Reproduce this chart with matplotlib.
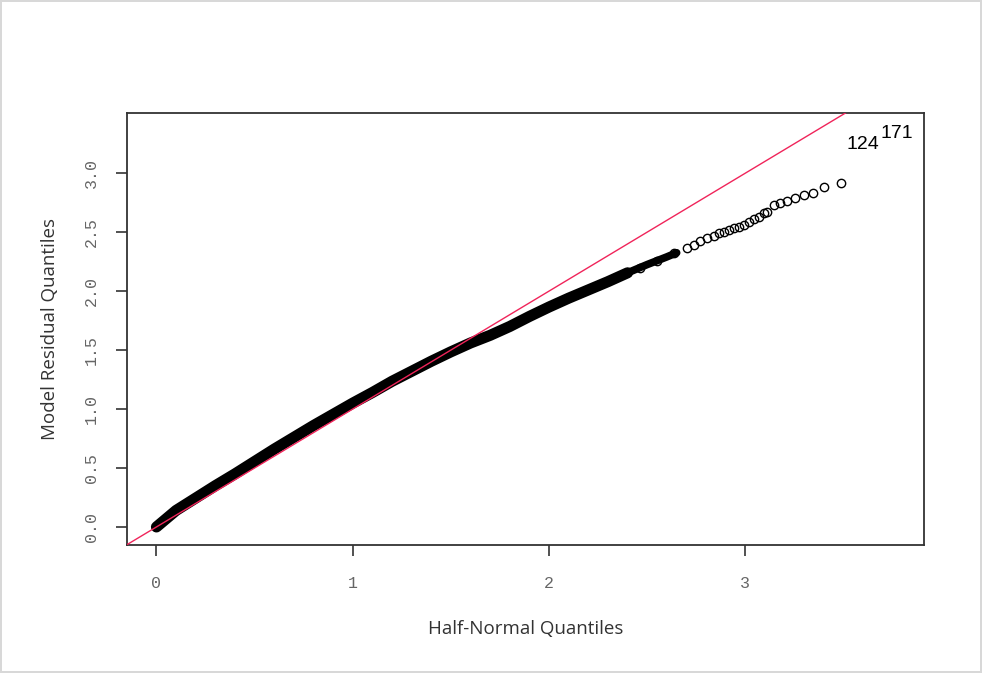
import matplotlib
matplotlib.use("Agg")
import matplotlib.pyplot as plt

# Dense part of the half-normal plot (read along the centre of the black band)
dense_x = [0.0, 0.1, 0.2, 0.3, 0.4, 0.5, 0.6, 0.7, 0.8, 0.9, 1.0, 1.1, 1.2, 1.3,
           1.4, 1.5, 1.6, 1.7, 1.8, 1.9, 2.0, 2.1, 2.2, 2.3, 2.4]
dense_y = [0.0, 0.14, 0.245, 0.35, 0.45, 0.555, 0.66, 0.76, 0.86, 0.955, 1.05,
           1.14, 1.235, 1.32, 1.405, 1.485, 1.56, 1.625, 1.70, 1.785, 1.865, 1.94,
           2.01, 2.08, 2.155]

# thinner stretch where the points start to separate
mid_x = [2.4, 2.5, 2.6, 2.65]
mid_y = [2.155, 2.225, 2.29, 2.325]

# Sparse upper tail (individual circles)
tail_x = [2.464, 2.549, 2.634, 2.703, 2.736, 2.770, 2.805, 2.838, 2.864, 2.889,
          2.915, 2.940, 2.966, 2.991, 3.017, 3.042, 3.068, 3.093, 3.110, 3.144,
          3.175, 3.213, 3.255, 3.297, 3.345, 3.399, 3.485]
tail_y = [2.195, 2.251, 2.321, 2.363, 2.392, 2.426, 2.447, 2.470, 2.489, 2.504,
          2.518, 2.532, 2.546, 2.560, 2.588, 2.611, 2.630, 2.658, 2.672, 2.729,
          2.748, 2.765, 2.790, 2.812, 2.834, 2.884, 2.916]

# identified points
lab_text = ["124", "171"]
lab_x = [3.60, 3.77]
lab_y = [3.245, 3.335]

x_ticks = [0, 1, 2, 3]
y_ticks = [0.0, 0.5, 1.0, 1.5, 2.0, 2.5, 3.0]

fig = plt.figure(figsize=(9.82, 6.73), dpi=100)
fig.patch.set_edgecolor("#d8d8d8")
fig.patch.set_linewidth(1.5)
ax = fig.add_axes([127 / 982, 1 - 545 / 673, (924 - 127) / 982, (545 - 113) / 673])

# reference line y = x
ax.axline((0, 0), slope=1, color="#f0245a", lw=1.0, zorder=3)

ax.plot(dense_x, dense_y, color="black", lw=8, solid_capstyle="round", zorder=2)
ax.plot(mid_x, mid_y, color="black", lw=5.5, solid_capstyle="round", zorder=2)
ax.plot(tail_x, tail_y, "o", mfc="none", mec="black", ms=6, mew=1.0, zorder=2)

for t, x, y in zip(lab_text, lab_x, lab_y):
    ax.text(x, y, t, ha="center", va="center", fontsize=14,
            family="Liberation Sans", color="black")

ax.set_xlim(-0.15, 3.91)
ax.set_ylim(-0.153, 3.51)
ax.set_xticks(x_ticks)
ax.set_xticklabels([str(v) for v in x_ticks])
ax.set_yticks(y_ticks)
ax.set_yticklabels(["%.1f" % v for v in y_ticks], rotation=90, va="center")

for lbl in ax.get_xticklabels() + ax.get_yticklabels():
    lbl.set_family("Liberation Mono")
    lbl.set_fontsize(12)
    lbl.set_color("#666666")

ax.tick_params(axis="both", direction="out", length=8, width=1.2, color="#333333")
ax.tick_params(axis="x", pad=14)
ax.tick_params(axis="y", pad=12)
for s in ax.spines.values():
    s.set_color("#333333")
    s.set_linewidth(1.3)

ax.set_xlabel("Half-Normal Quantiles", family="Open Sans", fontsize=13.5,
              color="#333333", labelpad=21)
ax.set_ylabel("Model Residual Quantiles", family="Open Sans", fontsize=13.5,
              color="#333333", labelpad=18)

fig.savefig("out.png", dpi=100, edgecolor=fig.get_edgecolor())
